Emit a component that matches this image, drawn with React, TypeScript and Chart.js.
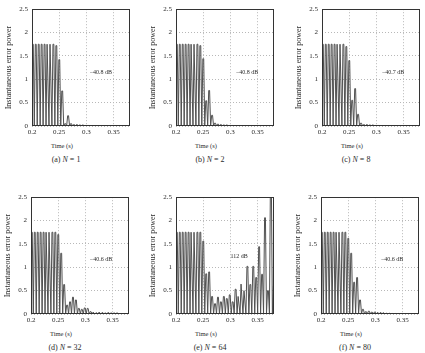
import React, { useEffect, useRef } from "react";
import { Chart, registerables } from "chart.js";

Chart.register(...registerables);

// Axis ranges and ticks shared by all six panels
const TIME_MIN = 0.2;
const TIME_MAX = 0.38;
const TIME_TICKS = [0.2, 0.25, 0.3, 0.35];
const TIME_TICK_LABELS = ["0.2", "0.25", "0.3", "0.35"];
const POWER_MIN = 0;
const POWER_MAX = 2.5;
const POWER_TICKS = [0, 0.5, 1, 1.5, 2, 2.5];
const POWER_TICK_LABELS = ["0", "0.5", "1", "1.5", "2", "2.5"];

// Error-power crests: first crest time, crest spacing (s)
const FIRST_PEAK_TIME = 0.2015;
const PEAK_SPACING = 0.0054;
const CREST_HALF_WIDTH = 0.0008;

// Crest heights of the instantaneous error power, one value per oscillation
const PEAKS_N1 = [1.75, 1.75, 1.75, 1.75, 1.75, 1.75, 1.75, 1.75, 1.72, 1.42, 0.75, 0.05, 0.22, 0.05, 0.03, 0.03, 0.02, 0.02, 0.01, 0.01, 0, 0, 0, 0, 0, 0, 0, 0, 0, 0, 0, 0, 0, 0];
const PEAKS_N2 = [1.75, 1.75, 1.75, 1.75, 1.75, 1.75, 1.75, 1.75, 1.72, 1.44, 0.54, 0.76, 0.23, 0.06, 0.04, 0.03, 0.02, 0.02, 0.01, 0.01, 0, 0, 0, 0, 0, 0, 0, 0, 0, 0, 0, 0, 0, 0];
const PEAKS_N8 = [1.75, 1.75, 1.75, 1.75, 1.75, 1.75, 1.75, 1.75, 1.7, 1.4, 0.55, 0.8, 0.25, 0.06, 0.03, 0.03, 0.02, 0.02, 0.01, 0.01, 0, 0, 0, 0, 0, 0, 0, 0, 0, 0, 0, 0, 0, 0];
const PEAKS_N32 = [1.75, 1.75, 1.75, 1.75, 1.75, 1.75, 1.75, 1.75, 1.75, 1.7, 1.3, 0.63, 0.19, 0.26, 0.36, 0.3, 0.12, 0.1, 0.13, 0.12, 0.05, 0.04, 0.03, 0.04, 0.03, 0.02, 0.03, 0.02, 0.02, 0.02, 0.01, 0.01, 0.01, 0.01];
const PEAKS_N64 = [1.75, 1.75, 1.75, 1.75, 1.75, 1.75, 1.75, 1.75, 1.75, 1.56, 0.86, 0.9, 0.375, 0.22, 0.36, 0.26, 0.375, 0.33, 0.41, 0.26, 0.53, 0.375, 0.64, 0.5, 1.02, 0.63, 1.02, 0.78, 1.44, 0.85, 2.06, 0.5, 2.9, 0.6];
const PEAKS_N80 = [1.75, 1.75, 1.75, 1.75, 1.75, 1.75, 1.75, 1.75, 1.75, 1.62, 1.3, 0.68, 0.78, 0.3, 0.1, 0.05, 0.06, 0.04, 0.04, 0.03, 0.03, 0.03, 0.02, 0.02, 0.01, 0.01, 0.01, 0, 0, 0, 0, 0, 0, 0];

const PANEL_TAGS = ["(a)", "(b)", "(c)", "(d)", "(e)", "(f)"];
const FILTER_LENGTHS = [1, 2, 8, 32, 64, 80];
const MISADJUSTMENT_LABELS = ["\u221240.8 dB", "\u221240.8 dB", "\u221240.7 dB", "\u221240.6 dB", "112 dB", "\u221240.6 dB"];
const PEAK_SERIES = [PEAKS_N1, PEAKS_N2, PEAKS_N8, PEAKS_N32, PEAKS_N64, PEAKS_N80];

// Layout of each panel (pixels) and where its dB note sits (axis units)
const PLOT_W = 98;
const PLOT_H = 120;
const Y_AXIS_W = 27;
const X_AXIS_H = 14;
const PAD_TOP = 5;
const PAD_RIGHT = 1;
const LAYOUT = [
  { left: 32, top: 6, noteT: 0.306, noteP: 1.15 },
  { left: 176, top: 6, noteT: 0.31, noteP: 1.15 },
  { left: 322, top: 6, noteT: 0.31, noteP: 1.15 },
  { left: 31, top: 194, noteT: 0.308, noteP: 1.17 },
  { left: 176, top: 194, noteT: 0.3, noteP: 1.23 },
  { left: 321, top: 194, noteT: 0.31, noteP: 1.17 },
];

const SERIF = "'Liberation Serif', 'Times New Roman', serif";
const TEXT_COLOR = "#2b2b2b";
const LINE_COLOR = "#505050";
const GRID_COLOR = "#b8b8b8";
const BOX_COLOR = "#333333";

function buildTrace(peaks: number[]) {
  const pts: { x: number; y: number }[] = [];
  peaks.forEach((v, k) => {
    const t = FIRST_PEAK_TIME + k * PEAK_SPACING;
    pts.push({ x: t - PEAK_SPACING / 2, y: 0 });
    pts.push({ x: t - CREST_HALF_WIDTH, y: v });
    pts.push({ x: t + CREST_HALF_WIDTH, y: v });
  });
  pts.push({ x: FIRST_PEAK_TIME + peaks.length * PEAK_SPACING - PEAK_SPACING / 2, y: 0 });
  return pts;
}

function tickLabel(ticks: number[], labels: string[], value: number) {
  const idx = ticks.findIndex((t) => Math.abs(t - value) < 1e-9);
  return idx >= 0 ? labels[idx] : "";
}

const panelDecor = {
  id: "panelDecor",
  afterDatasetsDraw(chart: any, _args: any, opts: any) {
    const { ctx, chartArea, scales } = chart;
    ctx.save();
    // axes box
    ctx.strokeStyle = BOX_COLOR;
    ctx.lineWidth = 1;
    ctx.strokeRect(
      Math.round(chartArea.left) + 0.5,
      Math.round(chartArea.top) + 0.5,
      Math.round(chartArea.right - chartArea.left) - 1,
      Math.round(chartArea.bottom - chartArea.top) - 1
    );
    // misadjustment note
    ctx.fillStyle = TEXT_COLOR;
    ctx.font = `6px ${SERIF}`;
    ctx.textAlign = "left";
    ctx.textBaseline = "middle";
    ctx.fillText(opts.text, scales.x.getPixelForValue(opts.t), scales.y.getPixelForValue(opts.p));
    ctx.restore();
  },
};

function Panel({ i }: { i: number }) {
  const ref = useRef<HTMLCanvasElement>(null);
  const L = LAYOUT[i];
  const cw = Y_AXIS_W + PLOT_W + PAD_RIGHT;
  const ch = PAD_TOP + PLOT_H + X_AXIS_H;

  useEffect(() => {
    const chart = new Chart(ref.current as HTMLCanvasElement, {
      type: "line",
      data: {
        datasets: [
          {
            data: buildTrace(PEAK_SERIES[i]),
            borderColor: LINE_COLOR,
            borderWidth: 1,
            pointRadius: 0,
            tension: 0,
            fill: false,
          },
        ],
      },
      options: {
        responsive: false,
        animation: false,
        devicePixelRatio: 1,
        layout: { padding: { left: 0, right: PAD_RIGHT, top: PAD_TOP, bottom: 0 } },
        plugins: {
          legend: { display: false },
          tooltip: { enabled: false },
          panelDecor: { text: MISADJUSTMENT_LABELS[i], t: L.noteT, p: L.noteP },
        } as any,
        scales: {
          x: {
            type: "linear",
            min: TIME_MIN,
            max: TIME_MAX,
            afterBuildTicks: (s: any) => {
              s.ticks = TIME_TICKS.map((value) => ({ value }));
            },
            afterFit: (s: any) => {
              s.height = X_AXIS_H;
            },
            ticks: {
              autoSkip: false,
              maxRotation: 0,
              padding: 2,
              color: TEXT_COLOR,
              font: { family: SERIF, size: 7 },
              callback: (v: any) => tickLabel(TIME_TICKS, TIME_TICK_LABELS, Number(v)),
            },
            grid: { color: GRID_COLOR, lineWidth: 1, drawTicks: false },
            border: { display: false, dash: [1, 2] },
          },
          y: {
            type: "linear",
            min: POWER_MIN,
            max: POWER_MAX,
            afterBuildTicks: (s: any) => {
              s.ticks = POWER_TICKS.map((value) => ({ value }));
            },
            afterFit: (s: any) => {
              s.width = Y_AXIS_W;
            },
            ticks: {
              autoSkip: false,
              padding: 4,
              color: TEXT_COLOR,
              font: { family: SERIF, size: 7 },
              callback: (v: any) => tickLabel(POWER_TICKS, POWER_TICK_LABELS, Number(v)),
            },
            title: {
              display: true,
              text: "Instantaneous error power",
              color: TEXT_COLOR,
              font: { family: SERIF, size: 8, lineHeight: 1 },
              padding: 0,
            },
            grid: { color: GRID_COLOR, lineWidth: 1, drawTicks: false },
            border: { display: false, dash: [1, 2] },
          },
        },
      } as any,
      plugins: [panelDecor],
    });
    return () => chart.destroy();
  }, [i]);

  const textBase: React.CSSProperties = {
    position: "absolute",
    transform: "translate(-50%, -50%)",
    whiteSpace: "nowrap",
    fontFamily: SERIF,
    color: TEXT_COLOR,
    lineHeight: 1,
  };

  return (
    <>
      <canvas
        ref={ref}
        width={cw}
        height={ch}
        style={{ position: "absolute", left: L.left - Y_AXIS_W, top: L.top - PAD_TOP, width: cw, height: ch }}
      />
      <div style={{ ...textBase, left: L.left + 30, top: L.top + 139.5, fontSize: 6.5 }}>Time (s)</div>
      <div style={{ ...textBase, left: L.left + 34, top: L.top + 154, fontSize: 8 }}>
        {PANEL_TAGS[i]} <i>N</i> = {FILTER_LENGTHS[i]}
      </div>
    </>
  );
}

export default function App() {
  return (
    <div
      style={{
        position: "fixed",
        left: 0,
        top: 0,
        width: 425,
        height: 353,
        background: "#ffffff",
        overflow: "hidden",
      }}
    >
      {LAYOUT.map((_, i) => (
        <Panel key={i} i={i} />
      ))}
    </div>
  );
}
